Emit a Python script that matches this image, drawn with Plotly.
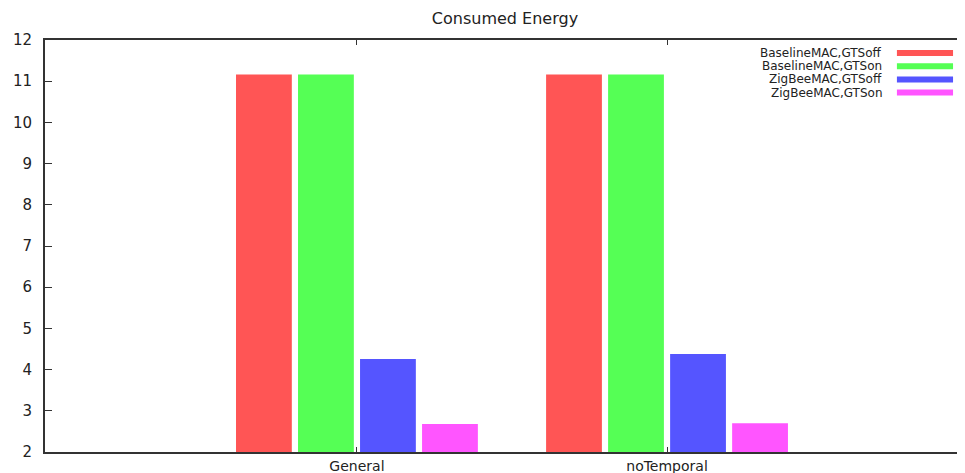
import plotly.graph_objects as go

categories = ["General", "noTemporal"]
series_names = ["BaselineMAC,GTSoff", "BaselineMAC,GTSon", "ZigBeeMAC,GTSoff", "ZigBeeMAC,GTSon"]
baseline_off = [11.16, 11.16]
baseline_on = [11.16, 11.16]
zigbee_off = [4.26, 4.38]
zigbee_on = [2.68, 2.70]
series_values = [baseline_off, baseline_on, zigbee_off, zigbee_on]
colors = ["#ff5555", "#55ff55", "#5555ff", "#ff55ff"]
y_ticks = list(range(2, 13))

FONT = "DejaVu Sans"
# page body has an 8px default margin, so the figure is sized to fill the rest of the window
W, H = 957, 465
fig = go.Figure()
for name, vals, col in zip(series_names, series_values, colors):
    fig.add_trace(go.Bar(x=categories, y=vals, name=name, marker=dict(color=col, line=dict(width=0)),
                         showlegend=False))

# custom gnuplot-style key: text right-aligned, swatch on the right
row0 = 1 - (53 - 40) / 412
step = 13.2 / 412
for i, (name, col) in enumerate(zip(series_names, colors)):
    yy = row0 - i * step
    fig.add_annotation(xref="paper", yref="paper", x=0.912, y=yy, text=name, showarrow=False,
                       xanchor="right", yanchor="middle", font=dict(family=FONT, size=12, color="#222"))
    fig.add_shape(type="rect", xref="paper", yref="paper", x0=0.926, x1=0.987,
                  y0=yy - 3 / 412, y1=yy + 3 / 412, fillcolor=col, line=dict(width=0))

fig.update_layout(
    width=W, height=H,
    margin=dict(l=37, r=0, t=32, b=21),
    paper_bgcolor="white", plot_bgcolor="white",
    barmode="group", bargap=0.2, bargroupgap=0.1,
    title=dict(text="Consumed Energy", x=497 / W, xanchor="center", y=1 - 10 / H, yanchor="middle",
               font=dict(family=FONT, size=16, color="#222")),
    font=dict(family=FONT, color="#222"),
)
fig.update_xaxes(type="category", range=[-1.006, 1.961], showline=True, linecolor="#333", linewidth=2,
                 mirror="ticks", ticks="inside", ticklen=5, tickcolor="#333", showgrid=False,
                 automargin=False,
                 tickfont=dict(family=FONT, size=14, color="#222"), zeroline=False)
fig.update_yaxes(range=[2, 12], tickvals=y_ticks, showline=True, linecolor="#333", linewidth=2,
                 ticks="inside", ticklen=7, tickcolor="#333", showgrid=False, zeroline=False,
                 automargin=False,
                 ticklabelstandoff=8, tickfont=dict(family=FONT, size=15, color="#222"))

fig.write_html("out.html")
